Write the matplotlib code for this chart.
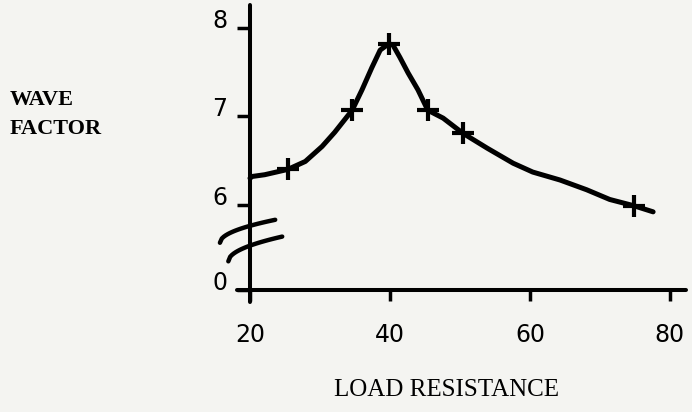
import numpy as np
import matplotlib
matplotlib.use("Agg")
import matplotlib.pyplot as plt

# Measured points (load resistance, wave factor)
load = [25.4, 34.6, 39.8, 45.4, 50.4, 74.8]
wave = [6.40, 7.07, 7.82, 7.07, 6.81, 5.99]

# Hand-faired curve through the measurements
curve_x = [20.0, 20.3, 22.1, 25.4, 27.9, 30.3, 32.1, 34.6, 36.0, 37.4, 38.6,
           39.8, 40.4, 41.4, 42.6, 44.0, 45.4, 47.6, 50.4, 53.9, 57.6, 60.4,
           64.3, 68.1, 71.4, 74.8, 77.6]
curve_y = [6.30, 6.32, 6.34, 6.40, 6.49, 6.66, 6.82, 7.07, 7.30, 7.55, 7.75,
           7.82, 7.81, 7.67, 7.49, 7.30, 7.07, 6.98, 6.81, 6.64, 6.47, 6.37,
           6.28, 6.17, 6.06, 5.99, 5.92]

x_ticks = [20, 40, 60, 80]
y_ticks = [6, 7, 8]
y_zero_pos = 5.04          # where the broken axis puts its "0"
y_tick_labels = ["6", "7", "8"]

bg = "#f4f4f1"
fig = plt.figure(figsize=(6.92, 4.12), dpi=100, facecolor=bg)
ax = fig.add_axes([237 / 692, 110 / 412, 449 / 692, 297 / 412])
ax.set_facecolor(bg)
ax.set_xlim(18.14, 82.3)
ax.set_ylim(4.90, 8.26)

# curve and markers
ax.plot(curve_x, curve_y, color="black", lw=3.6, solid_capstyle="round",
        solid_joinstyle="round", zorder=3)
ax.plot(load, wave, linestyle="none", marker="+", ms=16, mew=3.0,
        color="black", zorder=4)

# axes drawn as crossing lines
for s in ["top", "right"]:
    ax.spines[s].set_visible(False)
ax.spines["left"].set_position(("data", 20))
ax.spines["bottom"].set_position(("data", y_zero_pos))
ax.spines["left"].set_linewidth(2.9)
ax.spines["bottom"].set_linewidth(2.9)
ax.spines["left"].set_capstyle("round")
ax.spines["bottom"].set_capstyle("round")

ax.set_xticks(x_ticks)
ax.set_xticklabels([str(t) for t in x_ticks])
ax.set_yticks(y_ticks + [y_zero_pos])
ax.set_yticklabels(y_tick_labels + ["0"])
ax.tick_params(axis="x", direction="out", length=8, width=2.5, pad=16,
               labelsize=17, colors="black")
ax.tick_params(axis="y", direction="out", length=9.5, width=2.5, pad=7,
               labelsize=17, colors="black")
for lab in ax.get_yticklabels():
    lab.set_verticalalignment("baseline")

# axis break strokes
t = np.linspace(0, 1, 30)
for (x0, y0, x1, y1) in [(15.7, 5.57, 23.6, 5.83), (16.9, 5.36, 24.6, 5.64)]:
    xs = x0 + (x1 - x0) * t
    ys = y0 + (y1 - y0) * np.sqrt(t)
    ax.plot(xs, ys, color="black", lw=3.2, solid_capstyle="round",
            clip_on=False, zorder=5)

# axis titles
fig.text(10 / 692, 1 - 100 / 412, "WAVE", family="Liberation Serif",
         weight="bold", fontsize=16, ha="left", va="center")
fig.text(10 / 692, 1 - 129 / 412, "FACTOR", family="Liberation Serif",
         weight="bold", fontsize=16, ha="left", va="center")
fig.text(446 / 692, 1 - 390 / 412, "LOAD RESISTANCE", family="Liberation Serif",
         fontsize=18, ha="center", va="center")

fig.savefig("out.png", dpi=100, facecolor=bg)
